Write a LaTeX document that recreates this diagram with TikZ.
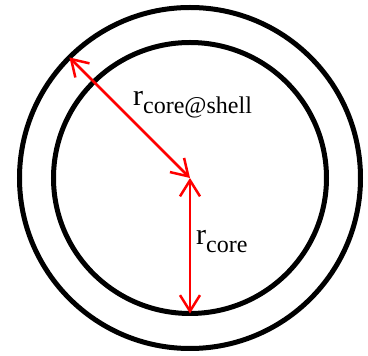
\documentclass[tikz,border=0pt]{standalone}
\usepackage{fontspec}
\setmainfont{Liberation Serif}
\usetikzlibrary{arrows.meta, calc}

\newcommand{\radlabel}[1]{{\fontsize{30}{30}\selectfont r}\raisebox{-7.5pt}{\fontsize{24}{24}\selectfont #1}}

\begin{document}
\begin{tikzpicture}[x=1pt, y=1pt,
    ring/.style={line width=5pt, black},
    radius arrow/.style={line width=2.5pt, red, {Straight Barb[length=16pt,width=20pt]}-{Straight Barb[length=16pt,width=20pt]}},
    radlab/.style={anchor=base west, inner sep=0pt}]
  \useasboundingbox (0,0) rectangle (368,356);
  % centre of the particle
  \coordinate (c) at (190,178);
  % shell and core
  \draw[ring] (c) circle[radius=170.5];
  \draw[ring] (c) ellipse[x radius=136.5, y radius=135.5];
  % end points of the radii
  \coordinate (shell) at ($(c)+(135:170.5)$);
  \coordinate (core) at ($(c)+(0,-135.5)$);
  % radii
  \draw[radius arrow] (shell) -- (c);
  \draw[radius arrow] (c) -- (core);
  % labels
  \node[radlab] (lshell) at (133,250) {\radlabel{core@shell}};
  \node[radlab] (lcore) at (196,111) {\radlabel{core}};
\end{tikzpicture}
\end{document}
